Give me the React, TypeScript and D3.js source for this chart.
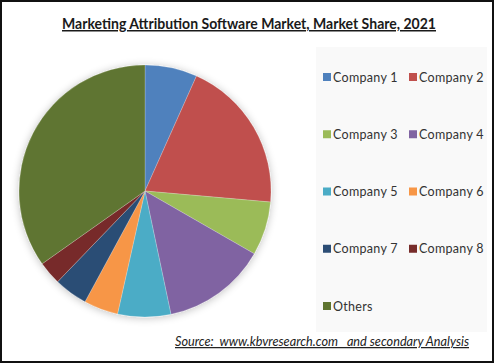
import React from "react";
import * as d3 from "d3";

const categories = ["Company 1", "Company 2", "Company 3", "Company 4", "Company 5", "Company 6", "Company 7", "Company 8", "Others"];
const shares = [6.7, 19.7, 6.9, 13.4, 6.8, 4.4, 4.3, 3.0, 34.8];
const colors = ["#4F81BD", "#C0504D", "#9BBB59", "#8064A2", "#4BACC6", "#F79646", "#2C4D75", "#772C2A", "#5F7530"];
const title = "Marketing Attribution Software Market, Market Share, 2021";
const source = "Source:  www.kbvresearch.com   and secondary Analysis";

const W = 495;
const H = 364;

export default function App() {
  const cx = 145;
  const cy = 191;
  const r = 126;
  const pie = d3.pie<number>().sort(null).value((d) => d);
  const arcs = pie(shares);
  const arcGen = d3.arc<d3.PieArcDatum<number>>().innerRadius(0).outerRadius(r);

  const legendX = d3.scalePoint<number>().domain([0, 1]).range([323, 409]);
  const legendY = d3.scalePoint<number>().domain([0, 1, 2, 3, 4]).range([77, 306]);

  return (
    <div style={{ position: "absolute", left: 0, top: 0 }}>
      <svg width={W} height={H} style={{ display: "block" }} fontFamily="Lato, 'Liberation Sans', sans-serif">
        <defs>
          <filter id="shadow" x="-20%" y="-20%" width="140%" height="140%">
            <feGaussianBlur in="SourceAlpha" stdDeviation="4" />
            <feOffset dx="0" dy="1" result="b" />
            <feComponentTransfer>
              <feFuncA type="linear" slope="0.25" />
            </feComponentTransfer>
            <feMerge>
              <feMergeNode />
              <feMergeNode in="SourceGraphic" />
            </feMerge>
          </filter>
        </defs>
        <rect x={0} y={0} width={W} height={H} fill="#ffffff" />
        <rect x={316} y={47} width={171} height={285} fill="#f9f9f9" />
        <text
          x={249}
          y={29}
          textAnchor="middle"
          fontSize={15}
          fontWeight="bold"
          fill="#1a1a1a"
          textDecoration="underline"
          textLength={374}
          lengthAdjust="spacingAndGlyphs"
        >
          {title}
        </text>
        <g transform={`translate(${cx},${cy})`} filter="url(#shadow)">
          {arcs.map((a, i) => (
            <path key={i} d={arcGen(a) || ""} fill={colors[i]} stroke="#ffffff" strokeOpacity={0.35} strokeWidth={0.6} />
          ))}
        </g>
        {categories.map((c, i) => {
          const x = legendX(i % 2) as number;
          const y = legendY(Math.floor(i / 2)) as number;
          return (
            <g key={c}>
              <rect x={x} y={y - 4} width={8} height={8} fill={colors[i]} />
              <text x={x + 10} y={y + 4.5} fontSize={12.5} fill="#333" letterSpacing={0.3}>
                {c}
              </text>
            </g>
          );
        })}
        <text
          x={175}
          y={346}
          fontSize={12.5}
          fontStyle="italic"
          fill="#222"
          textDecoration="underline"
          textLength={294}
          lengthAdjust="spacingAndGlyphs"
          style={{ whiteSpace: "pre" }}
        >
          {source}
        </text>
        <rect x={1} y={1} width={W - 3} height={H - 3} fill="none" stroke="#111" strokeWidth={2} />
      </svg>
    </div>
  );
}
